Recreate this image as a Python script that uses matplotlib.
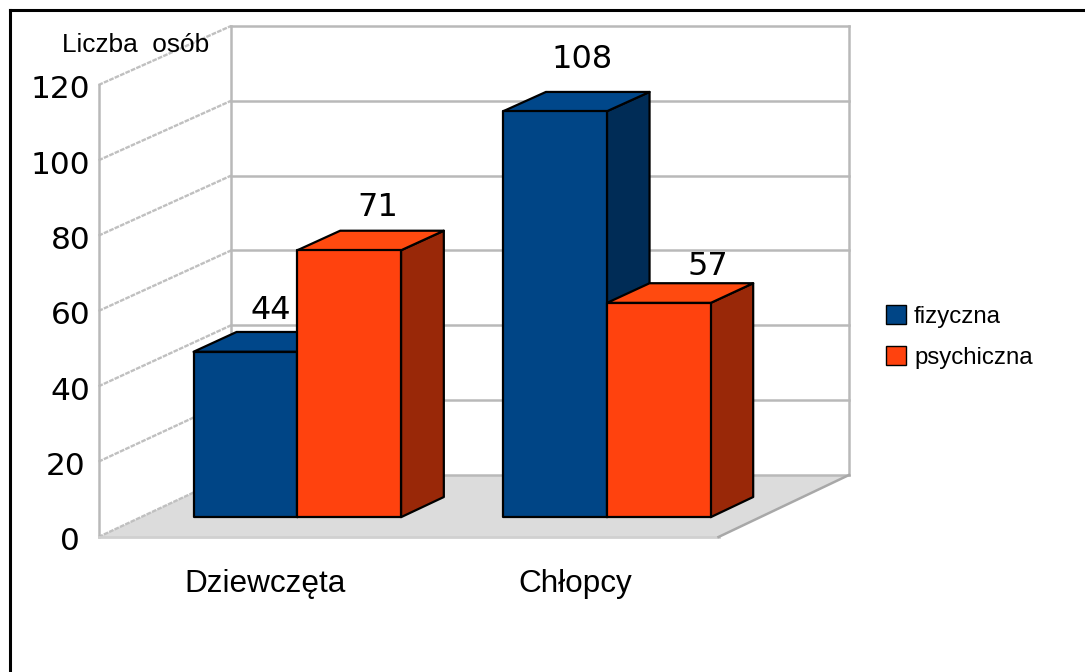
import matplotlib
matplotlib.use("Agg")
import matplotlib.pyplot as plt
from matplotlib.lines import Line2D
from matplotlib.patches import Polygon, Patch
from matplotlib.transforms import ScaledTranslation

W, H = 1085, 672
categories = ["Dziewczęta", "Chłopcy"]
series = ["fizyczna", "psychiczna"]
fizyczna = [44, 108]
psychiczna = [71, 57]
y_ticks = [0, 20, 40, 60, 80, 100, 120]

C_FRONT = ["#004586", "#ff420e"]
C_TOP = ["#00478a", "#ff4a0f"]
C_SIDE = ["#002c56", "#992808"]
C_GRID = "#b9b9b9"
C_FLOOR = "#dcdcdc"
TICK_FONT = "DejaVu Sans"
TEXT_FONT = "Liberation Sans"

# fake 3D: depth runs 0 (front) .. 1 (back wall), shifts by this much in data units
DEPTH_X = 132.5 / 310
DEPTH_Y = 62 / (452 / 120)
SHRINK_X, SHRINK_V = 0.0032, 0.0066   # back wall is a touch smaller than the front plane
BAR_W = 0.335
BAR_SHIFT = 0.005
BAR_D0, BAR_D1 = 0.32, 0.645


def pt(x, v, d=0.0):
    return (x * (1 - d * SHRINK_X) + d * DEPTH_X, v * (1 - d * SHRINK_V) + d * DEPTH_Y)


def shift(artist, dx, dy):
    # nudge by pixels (figure is at dpi 100)
    artist.set_transform(artist.get_transform() + ScaledTranslation(dx / 100, dy / 100, fig.dpi_scale_trans))


fig = plt.figure(figsize=(W / 100, H / 100), dpi=100)
ax = fig.add_axes([98.5 / W, 1 - 537 / H, 620 / W, 452 / H])
ax.set_xlim(0, 2)
ax.set_ylim(0, 120)
for s in ax.spines.values():
    s.set_visible(False)
ax.patch.set_visible(False)

# floor and walls
ax.add_patch(Polygon([pt(0, 0), pt(2, 0), pt(2, 0, 1), pt(0, 0, 1)], closed=True,
                     fc=C_FLOOR, ec="none", clip_on=False, zorder=1))
for v in y_ticks:
    ax.plot(*zip(pt(0, v), pt(0, v, 1)), color="#c0c0c0", lw=1.7, ls=(0, (2, 0.5)),
            clip_on=False, zorder=2)
    ax.plot(*zip(pt(0, v, 1), pt(2, v, 1)), color=C_GRID, lw=1.8, clip_on=False, zorder=2)
ax.plot(*zip(pt(0, 0), pt(0, 120)), color=C_GRID, lw=1.8, clip_on=False, zorder=2)
ax.plot(*zip(pt(0, 0, 1), pt(0, 120, 1)), color=C_GRID, lw=1.8, clip_on=False, zorder=2)
ax.plot(*zip(pt(2, 0, 1), pt(2, 120, 1)), color=C_GRID, lw=1.8, clip_on=False, zorder=2)
ax.plot(*zip(pt(0, 0), pt(2, 0)), color="#d0d0d0", lw=2, clip_on=False, zorder=2)
ax.plot(*zip(pt(2, 0), pt(2, 0, 1)), color="#a8a8a8", lw=1.8, clip_on=False, zorder=2)


def bar3d(x0, v, k, z, nudge):
    x1 = x0 + BAR_W
    kw = dict(closed=True, ec="black", lw=1.6, clip_on=False, zorder=z, joinstyle="round")
    ax.add_patch(Polygon([pt(x1, 0, BAR_D0), pt(x1, 0, BAR_D1), pt(x1, v, BAR_D1), pt(x1, v, BAR_D0)],
                         fc=C_SIDE[k], **kw))
    ax.add_patch(Polygon([pt(x0, v, BAR_D0), pt(x1, v, BAR_D0), pt(x1, v, BAR_D1), pt(x0, v, BAR_D1)],
                         fc=C_TOP[k], **kw))
    ax.add_patch(Polygon([pt(x0, 0, BAR_D0), pt(x1, 0, BAR_D0), pt(x1, v, BAR_D0), pt(x0, v, BAR_D0)],
                         fc=C_FRONT[k], **kw))
    # value label sits above the top face, source chart places them unevenly
    lx, ly = pt(x0 + BAR_W / 2, v, BAR_D1)
    ax.annotate(str(v), (lx, ly), xytext=(nudge[0] * 0.72, (8 + nudge[1]) * 0.72 + 1.8),
                textcoords="offset points", ha="center", va="bottom",
                fontsize=23, family=TICK_FONT, color="black", annotation_clip=False, zorder=10)


NUDGE_F = [(-18, -5), (-16, 6)]
NUDGE_P = [(-14, -3), (7, -9)]
for i in range(len(categories)):
    c = i + 0.5 + BAR_SHIFT
    bar3d(c - BAR_W, fizyczna[i], 0, 3 + 2 * i, NUDGE_F[i])
    bar3d(c, psychiczna[i], 1, 4 + 2 * i, NUDGE_P[i])

# axis labels
ax.set_yticks(y_ticks)
ax.set_yticklabels([str(v) for v in y_ticks], fontsize=22.5, family=TICK_FONT)
ax.tick_params(axis="y", length=0, pad=6)
TICK_NUDGE = [-10, -5, 0, 0, 0, 0, 0]
for lab, dx in zip(ax.get_yticklabels(), TICK_NUDGE):
    shift(lab, dx, -2)
ax.set_xticks([0.5, 1.5])
ax.set_xticklabels(categories, fontsize=22.7, family=TEXT_FONT)
ax.tick_params(axis="x", length=0, pad=24)
for lab in ax.get_xticklabels():
    shift(lab, 11.5, 1)
fig.text(62 / W, 1 - 44.5 / H, "Liczba  osób", fontsize=18.9, family=TEXT_FONT, ha="left", va="center")

fig.legend([Patch(fc=C_FRONT[0], ec="black", lw=1), Patch(fc=C_FRONT[1], ec="black", lw=1)], series,
           loc="center left", bbox_to_anchor=(864 / W, 1 - 337 / H), frameon=False,
           prop={"family": TEXT_FONT, "size": 17.3}, handlelength=0.83, handleheight=0.83,
           handletextpad=0.35, labelspacing=0.78)

# outer frame: only the top and left edges show
fig.add_artist(Line2D([10 / W, 10 / W], [0, 1 - 10 / H], color="black", lw=2.2, solid_capstyle="projecting"))
fig.add_artist(Line2D([10 / W, 1], [1 - 10 / H, 1 - 10 / H], color="black", lw=2.2, solid_capstyle="projecting"))

fig.savefig("out.png", dpi=100)
